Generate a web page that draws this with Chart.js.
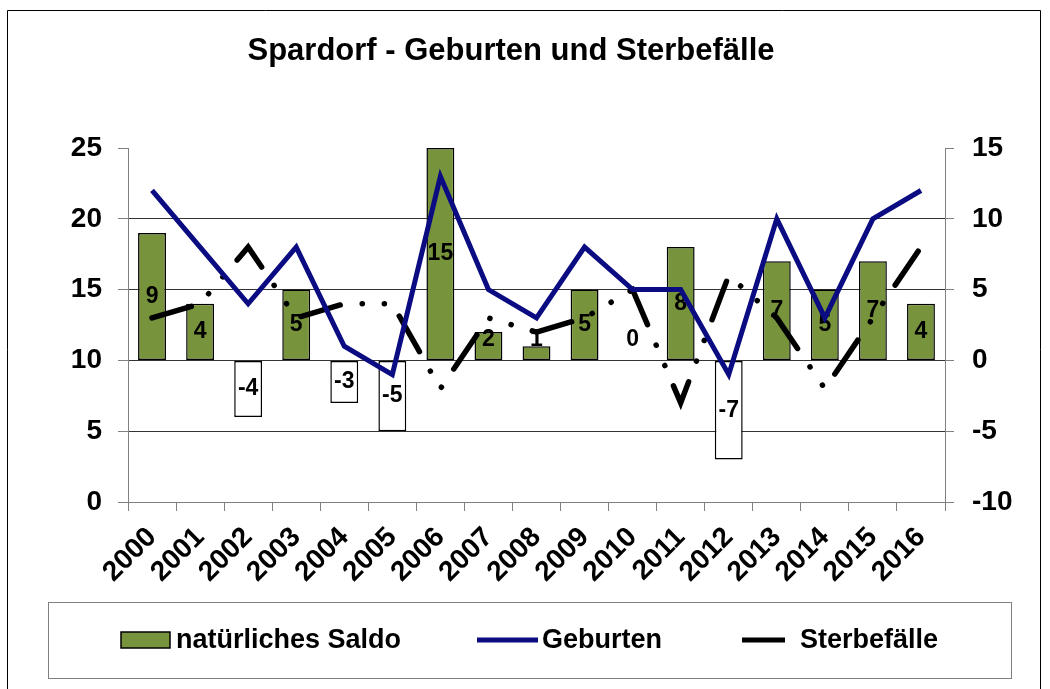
<!DOCTYPE html>
<html>
<head>
<meta charset="utf-8">
<script src="https://cdn.jsdelivr.net/npm/chart.js@4.4.0/dist/chart.umd.min.js"></script>
<style>
  html, body { margin: 0; padding: 0; background: #fff; }
  #wrap { width: 1050px; height: 689px; position: relative; }
</style>
</head>
<body>
<div id="wrap"><canvas id="chart" width="1050" height="689"></canvas></div>
<script>
// data
const years = ['2000', '2001', '2002', '2003', '2004', '2005', '2006', '2007', '2008',
  '2009', '2010', '2011', '2012', '2013', '2014', '2015', '2016'];
const saldo = [9, 4, -4, 5, -3, -5, 15, 2, 1, 5, 0, 8, -7, 7, 5, 7, 4];
const geburten = [22, 18, 14, 18, 11, 9, 23, 15, 13, 18, 15, 15, 9, 20, 13, 20, 22];
const sterbefaelle = [13, 14, 18, 13, 14, 14, 8, 13, 12, 13, 15, 7, 16, 13, 8, 13, 18];
const leftTicks = [0, 5, 10, 15, 20, 25];
const rightTicks = [-10, -5, 0, 5, 10, 15];

const FONT = "'Liberation Sans', Arial, sans-serif";
const GREEN = '#77933c';
const NAVY = '#0b0b82';

// frame + title behind everything
const framePlugin = {
  id: 'frame',
  beforeDraw(chart) {
    const ctx = chart.ctx;
    ctx.save();
    ctx.fillStyle = '#fff';
    ctx.fillRect(0, 0, chart.width, chart.height);
    ctx.strokeStyle = '#000';
    ctx.lineWidth = 1;
    ctx.beginPath();
    ctx.moveTo(7.5, 689);
    ctx.lineTo(7.5, 10.5);
    ctx.lineTo(1040.5, 10.5);
    ctx.lineTo(1040.5, 689);
    ctx.stroke();
    ctx.fillStyle = '#000';
    ctx.font = 'bold 31px ' + FONT;
    ctx.textAlign = 'center';
    ctx.textBaseline = 'alphabetic';
    ctx.fillText('Spardorf - Geburten und Sterbefälle', 511, 60);
    ctx.restore();
  }
};

// value labels on the bars, drawn before the lines go over them
const barLabels = {
  id: 'barLabels',
  afterDatasetDraw(chart, args) {
    if (args.index !== 0) return;
    const ctx = chart.ctx;
    const zero = chart.scales.y1.getPixelForValue(0);
    ctx.save();
    ctx.font = 'bold 23px ' + FONT;
    ctx.fillStyle = '#000';
    ctx.textAlign = 'center';
    ctx.textBaseline = 'middle';
    args.meta.data.forEach((bar, i) => {
      const v = saldo[i];
      let y = (bar.y + bar.base) / 2;
      if (v >= 0) y = Math.min(y, zero - 21);
      else y = Math.max(y, zero + 21);
      ctx.fillText(String(v), bar.x, y);
    });
    ctx.restore();
  }
};

// legend box at the bottom
const legendBox = {
  id: 'legendBox',
  afterDraw(chart) {
    const ctx = chart.ctx;
    ctx.save();
    ctx.strokeStyle = '#808080';
    ctx.lineWidth = 1;
    ctx.strokeRect(48.5, 602.5, 963, 76);

    ctx.fillStyle = GREEN;
    ctx.fillRect(121, 632, 49, 16);
    ctx.strokeStyle = '#000';
    ctx.lineWidth = 1.5;
    ctx.strokeRect(121, 632, 49, 16);

    ctx.lineWidth = 5;
    ctx.strokeStyle = NAVY;
    ctx.beginPath(); ctx.moveTo(477, 640); ctx.lineTo(538, 640); ctx.stroke();
    ctx.strokeStyle = '#000';
    ctx.beginPath(); ctx.moveTo(742, 640); ctx.lineTo(785, 640); ctx.stroke();

    ctx.fillStyle = '#000';
    ctx.font = 'bold 27px ' + FONT;
    ctx.textAlign = 'left';
    ctx.textBaseline = 'middle';
    ctx.fillText('natürliches Saldo', 176, 641);
    ctx.fillText('Geburten', 542, 641);
    ctx.fillText('Sterbefälle', 800, 641);
    ctx.restore();
  }
};

new Chart(document.getElementById('chart'), {
  type: 'bar',
  data: {
    labels: years,
    datasets: [
      {
        label: 'natürliches Saldo',
        data: saldo,
        yAxisID: 'y1',
        order: 3,
        backgroundColor: saldo.map(v => v < 0 ? '#ffffff' : GREEN),
        borderColor: '#000',
        borderWidth: 1.5,
        borderSkipped: false,
        categoryPercentage: 1,
        barPercentage: 0.58
      },
      {
        type: 'line',
        label: 'Sterbefälle',
        data: sterbefaelle,
        yAxisID: 'y',
        order: 2,
        borderColor: '#000',
        borderWidth: 5.5,
        // long dash, dot, dot
        borderDash: [41, 22.2, 0.1, 22, 0.1, 22],
        borderCapStyle: 'round',
        pointRadius: 0,
        tension: 0,
        fill: false
      },
      {
        type: 'line',
        label: 'Geburten',
        data: geburten,
        yAxisID: 'y',
        order: 1,
        borderColor: NAVY,
        borderWidth: 5,
        borderJoinStyle: 'miter',
        pointRadius: 0,
        tension: 0,
        fill: false
      }
    ]
  },
  options: {
    responsive: false,
    animation: false,
    devicePixelRatio: 1,
    layout: { padding: { top: 148, left: 0, right: 0, bottom: 0 } },
    plugins: {
      legend: { display: false },
      title: { display: false },
      tooltip: { enabled: false }
    },
    scales: {
      x: {
        offset: true,
        grid: { offset: true, drawOnChartArea: false, drawTicks: true, tickLength: 9, tickColor: '#808080' },
        border: { display: true, color: '#808080', width: 1 },
        ticks: {
          maxRotation: 45, minRotation: 45, autoSkip: false, padding: 10,
          color: '#000', font: { family: FONT, size: 28, weight: 'bold' }
        },
        afterFit(s) { s.height = 187; }
      },
      y: {
        position: 'left',
        min: 0, max: 25,
        grid: {
          color: c => (c.tick && (c.tick.value === 25 || c.tick.value === 0)) ? 'rgba(0,0,0,0)' : '#333',
          lineWidth: 1, tickColor: '#808080', tickLength: 10
        },
        border: { display: true, color: '#808080', width: 1 },
        ticks: { padding: 16, color: '#000', font: { family: FONT, size: 28, weight: 'bold' } },
        afterBuildTicks(s) { s.ticks = leftTicks.map(v => ({ value: v })); },
        afterFit(s) { s.width = 128; }
      },
      y1: {
        position: 'right',
        min: -10, max: 15,
        grid: { drawOnChartArea: false, tickColor: '#808080', tickLength: 9 },
        border: { display: true, color: '#808080', width: 1 },
        ticks: { padding: 18, color: '#000', font: { family: FONT, size: 28, weight: 'bold' } },
        afterBuildTicks(s) { s.ticks = rightTicks.map(v => ({ value: v })); },
        afterFit(s) { s.width = 105; }
      }
    }
  },
  plugins: [framePlugin, barLabels, legendBox]
});
</script>
</body>
</html>
